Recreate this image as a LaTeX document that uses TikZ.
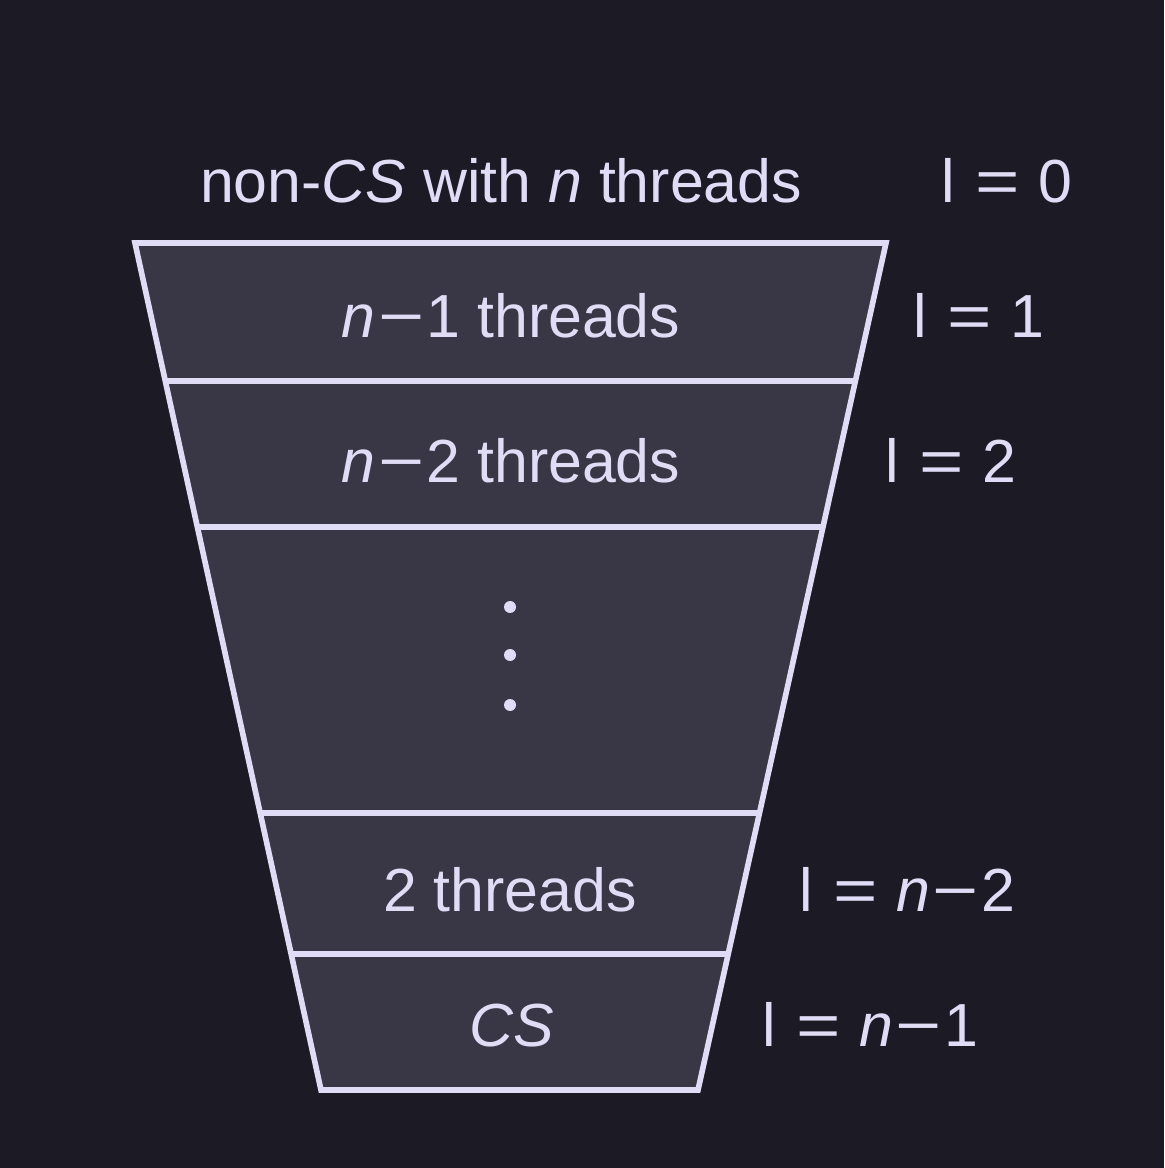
\documentclass[tikz,border=0pt]{standalone}
\usepackage{fontspec}
\setmainfont{Liberation Sans}
\usetikzlibrary{positioning, calc}
\definecolor{bg}{HTML}{1B1A25}
\definecolor{band}{HTML}{393745}
\definecolor{edge}{HTML}{E0DCF5}
\newcommand{\mns}{\kern0.04em\scalebox{1.3}[1]{−}\kern0.04em}
\newcommand{\eqs}{\kern0.05em\scalebox{1.25}[1]{=}\kern0.03em}

\begin{document}
\begin{tikzpicture}[x=0.01cm,y=-0.01cm,line width=1.6pt,
  lbl/.style={text=edge,font=\fontsize{17.3}{20}\selectfont,inner sep=0pt,anchor=base},
  lvl/.style={lbl,anchor=base west}]

\fill[bg] (0,0) rectangle (1164,1168);
\useasboundingbox (0,0) rectangle (1164,1168);

% funnel corners
\coordinate (TL) at (135,243);
\coordinate (TR) at (886,243);
\coordinate (BL) at (321,1090);
\coordinate (BR) at (698,1090);
\filldraw[fill=band,draw=edge] (TL) -- (TR) -- (BR) -- (BL) -- cycle;

% band separators
\foreach \y in {381,527,813,954}
  \draw[edge] ($(TL)!{(\y-243)/847}!(BL)$) -- ($(TR)!{(\y-243)/847}!(BR)$);

% band texts
\node[lbl] (T0) at (501,203) {non-\textit{CS} with \textit{n} threads};
\node[lbl] (T1) at (511,338) {\textit{n}\mns1 threads};
\node[lbl] (T2) at (511,483) {\textit{n}\mns2 threads};
\node[lbl] (T3) at (510,911) {2 threads};
\node[lbl] (T4) at (512,1046) {\textit{CS}};

\foreach \y in {607,655,705}
  \fill[edge] (510,\y) circle (6);

% levels
\node[lvl] (L0) at (939,203) {l \eqs{} 0};
\node[lvl] (L1) at (911,338) {l \eqs{} 1};
\node[lvl] (L2) at (883,483) {l \eqs{} 2};
\node[lvl] (L3) at (797,911) {l \eqs{} \textit{n}\mns2};
\node[lvl] (L4) at (760,1046) {l \eqs{} \textit{n}\mns1};
\end{tikzpicture}
\end{document}
